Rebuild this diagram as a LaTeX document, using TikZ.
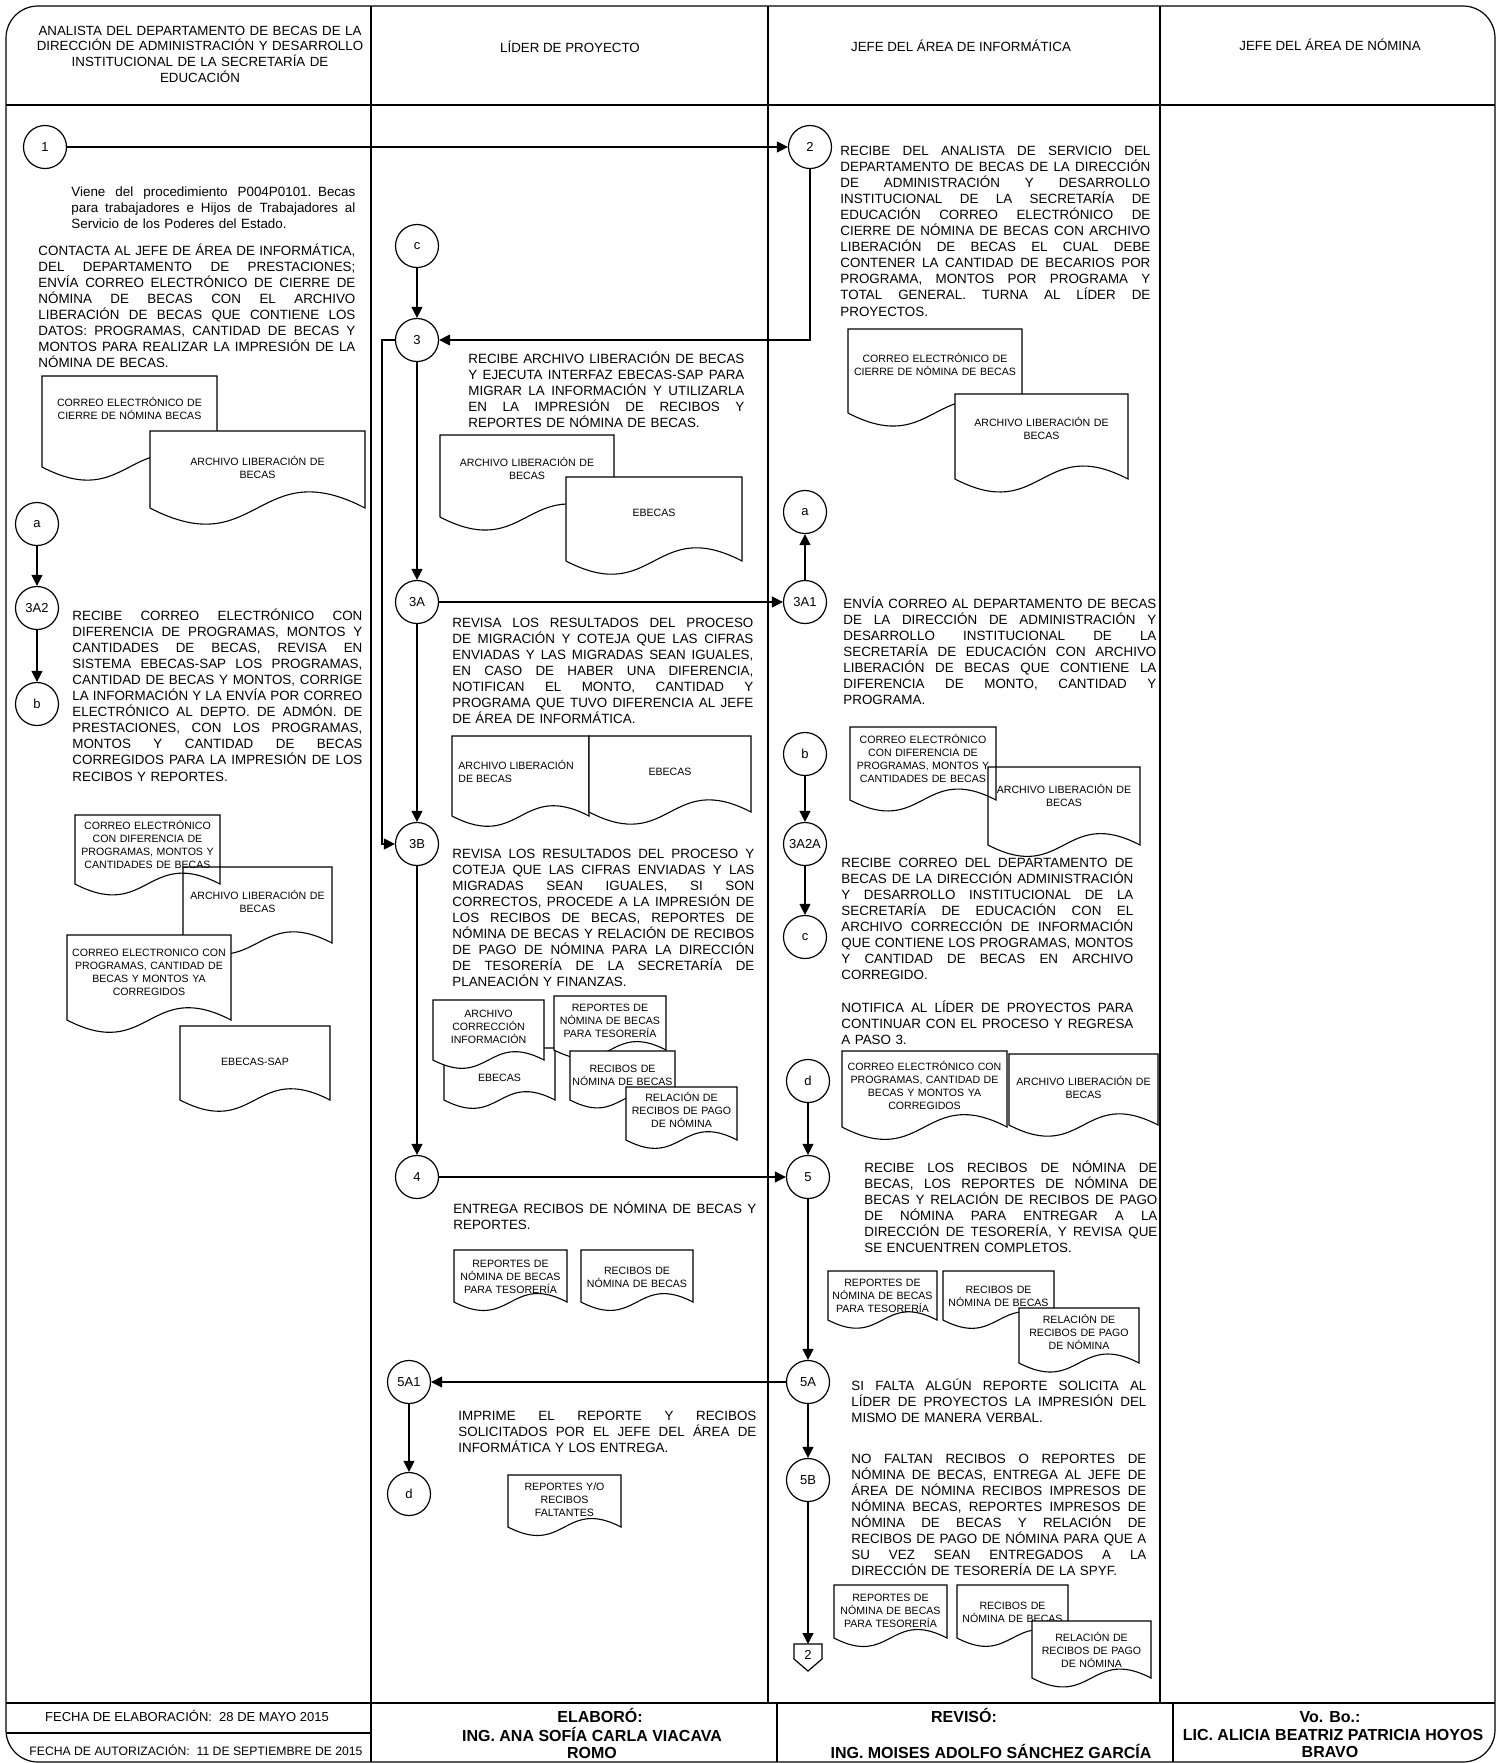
\documentclass[tikz,border=0pt]{standalone}
\usepackage{fontspec}
\setmainfont{Liberation Sans}
\usetikzlibrary{arrows.meta}
\newcommand{\jl}[1]{\hbox to\hsize{\spaceskip=0.278em plus 1fil\relax #1}}
\newcommand{\lastl}[1]{\hbox{#1}}
\newcommand{\cl}[1]{\hbox to\hsize{\hfil #1\hfil}}
\tikzset{
  ln/.style={line width=0.6pt},
  arr/.style={line width=0.6pt, -{Triangle[length=5.5pt,width=5.5pt]}},
  circ/.style={circle, draw, line width=0.6pt, minimum size=21.5pt, inner sep=0pt, fill=white, font=\fontsize{6.5}{7}\selectfont},
  body/.style={anchor=base west, inner sep=0pt, font=\fontsize{6.7}{8.05}\selectfont},
  doct/.style={anchor=base, inner sep=0pt, font=\fontsize{5.3}{6.5}\selectfont},
  docline/.style={line width=0.55pt, fill=white},
  hdr/.style={anchor=base, inner sep=0pt, font=\fontsize{6.66}{7.85}\selectfont},
  ftr/.style={anchor=base, inner sep=0pt, font=\fontsize{6.5}{7.5}\selectfont},
  ftrb/.style={anchor=base, inner sep=0pt, font=\bfseries\fontsize{8}{9}\selectfont},
}
\newcommand{\docpath}[5][]{%
  \pgfmathsetmacro{\dm}{(#2+#4)/2}%
  \pgfmathsetmacro{\dk}{0.26*(#4-#2)}%
  \draw[docline,#1] (#2,#3) -- (#4,#3) -- (#4,#5) .. controls (\dm,#5-\dk) and (\dm,#5+\dk) .. (#2,#5) -- cycle;}
\newcommand{\docu}[8][]{%
  \docpath[#1]{#3}{#4}{#5}{#6}%
  \pgfmathsetmacro{\dm}{(#3+#5)/2}%
  \pgfmathsetmacro{\dw}{(#5-#3)*0.5}%
  \node[doct, text width=\dw pt] (#2) at (\dm,#7+4) {\vtop{#8}};}
\newcommand{\btext}[5]{%
  \pgfmathsetmacro{\tw}{(#3-#2)*0.5}%
  \node[body, text width=\tw pt] (#1) at (#2,#4+5) {\vtop{#5}};}
\begin{document}
\begin{tikzpicture}[x=0.5pt,y=-0.5pt]
\useasboundingbox (0,0) rectangle (1500,1763);
% ---------- frame ----------
\draw[ln, rounded corners=16pt] (6,6) rectangle (1495,1762);
\draw[ln] (6,105) -- (1495,105);
\draw[ln] (6,1703) -- (1495,1703);
\draw[ln] (6,1733) -- (371,1733);
\draw[ln] (371,6) -- (371,1703);
\draw[ln] (768,6) -- (768,1703);
\draw[ln] (1160,6) -- (1160,1703);
\draw[ln] (371,1703) -- (371,1762);
\draw[ln] (777,1703) -- (777,1762);
\draw[ln] (1173,1703) -- (1173,1762);
% ---------- header ----------
\node[hdr, text width=175pt] (h1) at (200,35) {\vtop{\cl{ANALISTA DEL DEPARTAMENTO DE BECAS DE LA}\cl{DIRECCIÓN DE ADMINISTRACIÓN Y DESARROLLO}\cl{INSTITUCIONAL DE LA SECRETARÍA DE}\cl{EDUCACIÓN}}};
\node[hdr] (h2) at (570,52) {LÍDER DE PROYECTO};
\node[hdr] (h3) at (961,51) {JEFE DEL ÁREA DE INFORMÁTICA};
\node[hdr] (h4) at (1330,50) {JEFE DEL ÁREA DE NÓMINA};
% ---------- footer ----------
\node[ftr] (f1) at (187,1721) {FECHA DE ELABORACIÓN:\ \ 28 DE MAYO 2015};
\node[ftr, font=\fontsize{6.1}{7}\selectfont] (f2) at (196,1755) {FECHA DE AUTORIZACIÓN:\ \ 11 DE SEPTIEMBRE DE 2015};
\node[ftrb] (f3) at (600,1722) {ELABORÓ:};
\node[ftrb] (f4) at (592,1741) {ING. ANA SOFÍA CARLA VIACAVA};
\node[ftrb] (f5) at (592,1758) {ROMO};
\node[ftrb] (f6) at (964,1722) {REVISÓ:};
\node[ftrb] (f7) at (991,1758) {ING. MOISES ADOLFO SÁNCHEZ GARCÍA};
\node[ftrb] (f8) at (1330,1722) {Vo. Bo.:};
\node[ftrb] (f9) at (1333,1740) {LIC. ALICIA BEATRIZ PATRICIA HOYOS};
\node[ftrb] (f10) at (1330,1757) {BRAVO};
% ---------- circles ----------
\node[circ] (n1) at (45,147) {1};
\node[circ] (n2) at (810,147) {2};
\node[circ] (c2) at (417,246) {c};
\node[circ] (n3) at (417,340) {3};
\node[circ] (n3A) at (417,602) {3A};
\node[circ] (n3B) at (417,844) {3B};
\node[circ] (n4) at (417,1177) {4};
\node[circ] (n5A1) at (409,1382) {5A1};
\node[circ] (d2) at (409,1494) {d};
\node[circ] (a1) at (37,524) {a};
\node[circ] (n3A2) at (37,608) {3A2};
\node[circ] (b1) at (37,704) {b};
\node[circ] (a3) at (805,512) {a};
\node[circ] (n3A1) at (805,602) {3A1};
\node[circ] (b3) at (805,754) {b};
\node[circ] (n3A2A) at (805,844) {3A2A};
\node[circ] (c3) at (805,937) {c};
\node[circ] (d3) at (808,1081) {d};
\node[circ] (n5) at (808,1177) {5};
\node[circ] (n5A) at (808,1382) {5A};
\node[circ] (n5B) at (808,1480) {5B};
% off-page connector
\draw[ln, fill=white] (794,1644) -- (822,1644) -- (822,1659) -- (808,1671) -- (794,1659) -- cycle;
\node[font=\fontsize{6.5}{7}\selectfont, inner sep=0pt] (off2) at (808,1655) {2};
\coordinate (offtop) at (808,1644);
% ---------- connectors ----------
\draw[arr] (n1) -- (n2);
\draw[arr] (n2.south) |- (n3.east);
\draw[arr] (c2) -- (n3);
\draw[arr] (n3) -- (n3A);
\draw[arr] (n3.west) -- ++(-13,0) |- (n3B.west);
\draw[arr] (n3A) -- (n3A1);
\draw[arr] (n3A) -- (n3B);
\draw[arr] (n3A1) -- (a3);
\draw[arr] (a1) -- (n3A2);
\draw[arr] (n3A2) -- (b1);
\draw[arr] (b3) -- (n3A2A);
\draw[arr] (n3A2A) -- (c3);
\draw[arr] (n3B) -- (n4);
\draw[arr] (n4) -- (n5);
\draw[arr] (d3) -- (n5);
\draw[arr] (n5) -- (n5A);
\draw[arr] (n5A) -- (n5A1);
\draw[arr] (n5A1) -- (d2);
\draw[arr] (n5A) -- (n5B);
\draw[arr] (n5B) -- (offtop);
% ---------- column 1 texts ----------
\btext{t1}{71}{355}{191}{\jl{Viene del procedimiento P004P0101. Becas}\jl{para trabajadores e Hijos de Trabajadores al}\lastl{Servicio de los Poderes del Estado.}}
\btext{t2}{38}{355}{250}{\jl{CONTACTA AL JEFE DE ÁREA DE INFORMÁTICA,}\jl{DEL DEPARTAMENTO DE PRESTACIONES;}\jl{ENVÍA CORREO ELECTRÓNICO DE CIERRE DE}\jl{NÓMINA DE BECAS CON EL ARCHIVO}\jl{LIBERACIÓN DE BECAS QUE CONTIENE LOS}\jl{DATOS: PROGRAMAS, CANTIDAD DE BECAS Y}\jl{MONTOS PARA REALIZAR LA IMPRESIÓN DE LA}\lastl{NÓMINA DE BECAS.}}
\btext{t3}{72}{362}{615}{\jl{RECIBE CORREO ELECTRÓNICO CON}\jl{DIFERENCIA DE PROGRAMAS, MONTOS Y}\jl{CANTIDADES DE BECAS, REVISA EN}\jl{SISTEMA EBECAS-SAP LOS PROGRAMAS,}\jl{CANTIDAD DE BECAS Y MONTOS, CORRIGE}\jl{LA INFORMACIÓN Y LA ENVÍA POR CORREO}\jl{ELECTRÓNICO AL DEPTO. DE ADMÓN. DE}\jl{PRESTACIONES, CON LOS PROGRAMAS,}\jl{MONTOS Y CANTIDAD DE BECAS}\jl{CORREGIDOS PARA LA IMPRESIÓN DE LOS}\lastl{RECIBOS Y REPORTES.}}
% ---------- column 1 documents ----------
\docu{dA1}{42}{376}{217}{467}{402}{\cl{CORREO ELECTRÓNICO DE}\cl{CIERRE DE NÓMINA BECAS}}
\docu{dA2}{150}{431}{365}{508}{461}{\cl{ARCHIVO LIBERACIÓN DE}\cl{BECAS}}
\docu[fill=none]{dA4}{183}{867}{332}{943}{895}{\cl{ARCHIVO LIBERACIÓN DE}\cl{BECAS}}
\docu[fill=none]{dA3}{75}{815}{220}{884}{825}{\cl{CORREO ELECTRÓNICO}\cl{CON DIFERENCIA DE}\cl{PROGRAMAS, MONTOS Y}\cl{CANTIDADES DE BECAS}}
\docu{dA5}{67}{935}{231}{1020}{952}{\cl{CORREO ELECTRONICO CON}\cl{PROGRAMAS, CANTIDAD DE}\cl{BECAS Y MONTOS YA}\cl{CORREGIDOS}}
\docu{dA6}{180}{1026}{330}{1100}{1061}{\cl{EBECAS-SAP}}
% ---------- column 2 texts ----------
\btext{t4}{468}{744}{358}{\jl{RECIBE ARCHIVO LIBERACIÓN DE BECAS}\jl{Y EJECUTA INTERFAZ EBECAS-SAP PARA}\jl{MIGRAR LA INFORMACIÓN Y UTILIZARLA}\jl{EN LA IMPRESIÓN DE RECIBOS Y}\lastl{REPORTES DE NÓMINA DE BECAS.}}
\btext{t5}{452}{753}{622}{\jl{REVISA LOS RESULTADOS DEL PROCESO}\jl{DE MIGRACIÓN Y COTEJA QUE LAS CIFRAS}\jl{ENVIADAS Y LAS MIGRADAS SEAN IGUALES,}\jl{EN CASO DE HABER UNA DIFERENCIA,}\jl{NOTIFICAN EL MONTO, CANTIDAD Y}\jl{PROGRAMA QUE TUVO DIFERENCIA AL JEFE}\lastl{DE ÁREA DE INFORMÁTICA.}}
\btext{t6}{452}{754}{853}{\jl{REVISA LOS RESULTADOS DEL PROCESO Y}\jl{COTEJA QUE LAS CIFRAS ENVIADAS Y LAS}\jl{MIGRADAS SEAN IGUALES, SI SON}\jl{CORRECTOS, PROCEDE A LA IMPRESIÓN DE}\jl{LOS RECIBOS DE BECAS, REPORTES DE}\jl{NÓMINA DE BECAS Y RELACIÓN DE RECIBOS}\jl{DE PAGO DE NÓMINA PARA LA DIRECCIÓN}\jl{DE TESORERÍA DE LA SECRETARÍA DE}\lastl{PLANEACIÓN Y FINANZAS.}}
\btext{t7}{453}{756}{1208}{\jl{ENTREGA RECIBOS DE NÓMINA DE BECAS Y}\lastl{REPORTES.}}
\btext{t8}{458}{756}{1415}{\jl{IMPRIME EL REPORTE Y RECIBOS}\jl{SOLICITADOS POR EL JEFE DEL ÁREA DE}\lastl{INFORMÁTICA Y LOS ENTREGA.}}
% ---------- column 2 documents ----------
\docu{dB1}{440}{435}{614}{517}{462}{\cl{ARCHIVO LIBERACIÓN DE}\cl{BECAS}}
\docu{dB2}{566}{477}{742}{561}{512}{\cl{EBECAS}}
\docpath{452}{736}{589}{816}
\node[doct, anchor=base west] (dB3) at (458,769) {\vtop{\hbox{ARCHIVO LIBERACIÓN}\hbox{DE BECAS}}};
\docu{dB4}{589}{736}{751}{812}{771}{\cl{EBECAS}}
\docu{dB6}{444}{1048}{555}{1100}{1077}{\cl{EBECAS}}
\docu{dB5}{433}{1000}{544}{1060}{1013}{\cl{ARCHIVO}\cl{CORRECCIÓN}\cl{INFORMACIÓN}}
\docu{dB7}{554}{996}{666}{1050}{1007}{\cl{REPORTES DE}\cl{NÓMINA DE BECAS}\cl{PARA TESORERÍA}}
\docu{dB8}{570}{1051}{675}{1100}{1068}{\cl{RECIBOS DE}\cl{NÓMINA DE BECAS}}
\docu{dB9}{626}{1087}{737}{1140}{1097}{\cl{RELACIÓN DE}\cl{RECIBOS DE PAGO}\cl{DE NÓMINA}}
\docu{dB10}{454}{1250}{567}{1302}{1263}{\cl{REPORTES DE}\cl{NÓMINA DE BECAS}\cl{PARA TESORERÍA}}
\docu{dB11}{581}{1250}{693}{1302}{1270}{\cl{RECIBOS DE}\cl{NÓMINA DE BECAS}}
\docu{dB12}{508}{1475}{621}{1527}{1486}{\cl{REPORTES Y/O}\cl{RECIBOS}\cl{FALTANTES}}
% ---------- column 3 texts ----------
\btext{t9}{840}{1150}{150}{\jl{RECIBE DEL ANALISTA DE SERVICIO DEL}\jl{DEPARTAMENTO DE BECAS DE LA DIRECCIÓN}\jl{DE ADMINISTRACIÓN Y DESARROLLO}\jl{INSTITUCIONAL DE LA SECRETARÍA DE}\jl{EDUCACIÓN CORREO ELECTRÓNICO DE}\jl{CIERRE DE NÓMINA DE BECAS CON ARCHIVO}\jl{LIBERACIÓN DE BECAS EL CUAL DEBE}\jl{CONTENER LA CANTIDAD DE BECARIOS POR}\jl{PROGRAMA, MONTOS POR PROGRAMA Y}\jl{TOTAL GENERAL. TURNA AL LÍDER DE}\lastl{PROYECTOS.}}
\btext{t10}{843}{1156}{603}{\jl{ENVÍA CORREO AL DEPARTAMENTO DE BECAS}\jl{DE LA DIRECCIÓN DE ADMINISTRACIÓN Y}\jl{DESARROLLO INSTITUCIONAL DE LA}\jl{SECRETARÍA DE EDUCACIÓN CON ARCHIVO}\jl{LIBERACIÓN DE BECAS QUE CONTIENE LA}\jl{DIFERENCIA DE MONTO, CANTIDAD Y}\lastl{PROGRAMA.}}
\btext{t11}{841}{1133}{862}{\jl{RECIBE CORREO DEL DEPARTAMENTO DE}\jl{BECAS DE LA DIRECCIÓN ADMINISTRACIÓN}\jl{Y DESARROLLO INSTITUCIONAL DE LA}\jl{SECRETARÍA DE EDUCACIÓN CON EL}\jl{ARCHIVO CORRECCIÓN DE INFORMACIÓN}\jl{QUE CONTIENE LOS PROGRAMAS, MONTOS}\jl{Y CANTIDAD DE BECAS EN ARCHIVO}\lastl{CORREGIDO.}}
\btext{t12}{841}{1133}{1007}{\jl{NOTIFICA AL LÍDER DE PROYECTOS PARA}\jl{CONTINUAR CON EL PROCESO Y REGRESA}\lastl{A PASO 3.}}
\btext{t13}{864}{1157}{1167}{\jl{RECIBE LOS RECIBOS DE NÓMINA DE}\jl{BECAS, LOS REPORTES DE NÓMINA DE}\jl{BECAS Y RELACIÓN DE RECIBOS DE PAGO}\jl{DE NÓMINA PARA ENTREGAR A LA}\jl{DIRECCIÓN DE TESORERÍA, Y REVISA QUE}\lastl{SE ENCUENTREN COMPLETOS.}}
\btext{t14}{851}{1146}{1385}{\jl{SI FALTA ALGÚN REPORTE SOLICITA AL}\jl{LÍDER DE PROYECTOS LA IMPRESIÓN DEL}\lastl{MISMO DE MANERA VERBAL.}}
\btext{t15}{851}{1146}{1458}{\jl{NO FALTAN RECIBOS O REPORTES DE}\jl{NÓMINA DE BECAS, ENTREGA AL JEFE DE}\jl{ÁREA DE NÓMINA RECIBOS IMPRESOS DE}\jl{NÓMINA BECAS, REPORTES IMPRESOS DE}\jl{NÓMINA DE BECAS Y RELACIÓN DE}\jl{RECIBOS DE PAGO DE NÓMINA PARA QUE A}\jl{SU VEZ SEAN ENTREGADOS A LA}\lastl{DIRECCIÓN DE TESORERÍA DE LA SPYF.}}
% ---------- column 3 documents ----------
\docu{dC1}{848}{329}{1022}{413}{358}{\cl{CORREO ELECTRÓNICO DE}\cl{CIERRE DE NÓMINA DE BECAS}}
\docu{dC2}{955}{394}{1128}{479}{422}{\cl{ARCHIVO LIBERACIÓN DE}\cl{BECAS}}
\docu[fill=none]{dC3}{850}{727}{996}{800}{739}{\cl{CORREO ELECTRÓNICO}\cl{CON DIFERENCIA DE}\cl{PROGRAMAS, MONTOS Y}\cl{CANTIDADES DE BECAS}}
\docu[fill=none]{dC4}{988}{767}{1140}{845}{789}{\cl{ARCHIVO LIBERACIÓN DE}\cl{BECAS}}
\docu{dC5}{842}{1051}{1007}{1127}{1066}{\cl{CORREO ELECTRÓNICO CON}\cl{PROGRAMAS, CANTIDAD DE}\cl{BECAS Y MONTOS YA}\cl{CORREGIDOS}}
\docu{dC6}{1009}{1054}{1158}{1125}{1081}{\cl{ARCHIVO LIBERACIÓN DE}\cl{BECAS}}
\docu{dC7}{828}{1271}{937}{1320}{1282}{\cl{REPORTES DE}\cl{NÓMINA DE BECAS}\cl{PARA TESORERÍA}}
\docu{dC8}{943}{1271}{1054}{1320}{1289}{\cl{RECIBOS DE}\cl{NÓMINA DE BECAS}}
\docu{dC9}{1019}{1308}{1139}{1363}{1319}{\cl{RELACIÓN DE}\cl{RECIBOS DE PAGO}\cl{DE NÓMINA}}
\docu{dC10}{834}{1585}{947}{1638}{1597}{\cl{REPORTES DE}\cl{NÓMINA DE BECAS}\cl{PARA TESORERÍA}}
\docu{dC11}{957}{1585}{1068}{1638}{1605}{\cl{RECIBOS DE}\cl{NÓMINA DE BECAS}}
\docu{dC12}{1032}{1621}{1151}{1678}{1637}{\cl{RELACIÓN DE}\cl{RECIBOS DE PAGO}\cl{DE NÓMINA}}
\end{tikzpicture}
\end{document}
